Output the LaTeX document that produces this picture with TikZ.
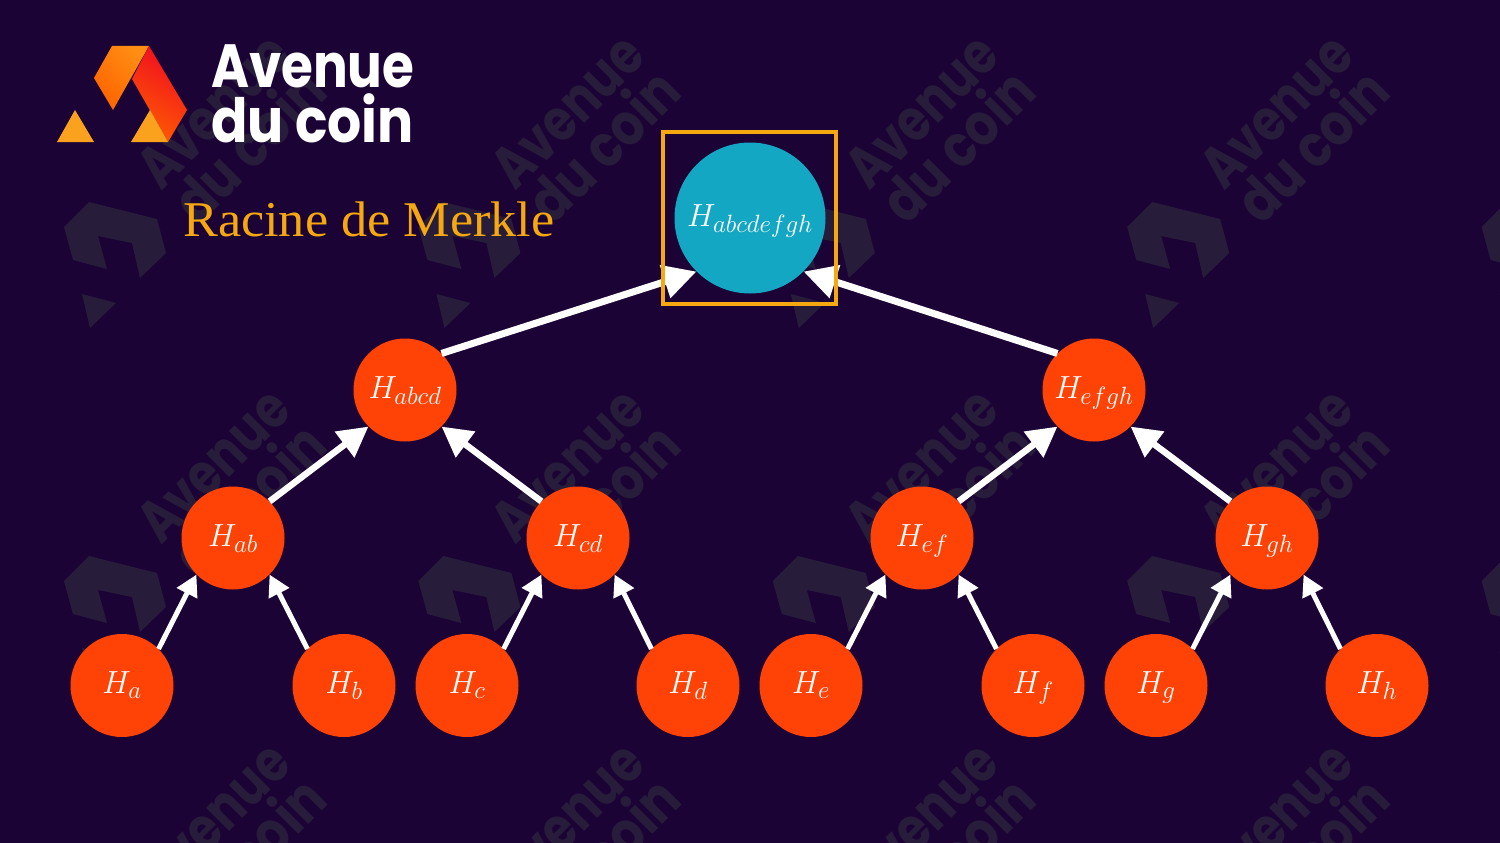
\documentclass[tikz,border=0pt]{standalone}
\usepackage{fix-cm}
\usepackage{amsmath}
\usepackage{graphicx}
\usepackage{fontspec}
\setmainfont{Liberation Serif}
\newfontfamily\brandfont{Poppins}
\usetikzlibrary{arrows.meta}
\DeclareMathSizes{32}{32}{25}{18}
\definecolor{fondnuit}{HTML}{1C0335}
\definecolor{filigrane}{HTML}{271D3A}
\definecolor{noeudrouge}{HTML}{FF4206}
\definecolor{racinebleu}{HTML}{14A7C3}
\definecolor{cadreor}{HTML}{F5A80F}
\definecolor{logoclair}{HTML}{FF8E14}
\definecolor{logofonce}{HTML}{FF6400}
\definecolor{logorouge}{HTML}{F00E1E}
\definecolor{logobas}{HTML}{FF5A04}
\definecolor{logojaune}{HTML}{FAA21E}

\begin{document}
\begin{tikzpicture}[x=1pt, y=-1pt]
        % Define styles for shapes
        \tikzstyle{hashnode} = [circle, fill=noeudrouge, text=white, inner sep=0pt, minimum size=103pt, text height=22pt, text depth=6pt, font=\fontsize{32}{36}\selectfont]
        \tikzstyle{rootnode} = [hashnode, fill=racinebleu, minimum size=151pt]
        \tikzstyle{rootbox} = [draw=cadreor, line width=4pt, minimum width=173pt, minimum height=172pt, inner sep=0pt]
        \tikzstyle{lowarrow} = [draw=white, line width=5pt, -{Triangle[length=21pt, width=22pt]}]
        \tikzstyle{midarrow} = [draw=white, line width=6.5pt, -{Triangle[length=30pt, width=31pt]}]
        \tikzstyle{toparrow} = [draw=white, line width=7pt, -{Triangle[length=33pt, width=33pt]}]
        \tikzstyle{brandtext} = [anchor=base west, inner sep=0pt, font=\brandfont\bfseries\fontsize{61}{61}\selectfont]

        \useasboundingbox (0,0) rectangle (1500,843);
        \fill[fondnuit] (0,0) rectangle (1500,843);

        % Watermark tiles
        \begin{scope}
            \clip (0,0) rectangle (1500,843);
            \foreach \col in {0,...,4} {
                \foreach \row in {0,1,2} {
                    \begin{scope}[shift={(64+354.4*\col,202+354*\row)}]
                        \fill[filigrane] (25,0) -- (93,17) -- (102,51) -- (76,76) -- (68,41) -- (34,34) -- (43,67) -- (9,58) -- (0,25) -- cycle;
                        \fill[filigrane] (18,92) -- (52,101) -- (26,126) -- cycle;
                        \node[brandtext, text=filigrane, rotate=45] (wmone\col\row) at (97,-10) {\scalebox{0.78}[0.96]{Avenue}};
                        \node[brandtext, text=filigrane, rotate=45] (wmtwo\col\row) at (134,25) {\scalebox{0.81}[0.96]{du coin}};
                    \end{scope}
                }
            }
        \end{scope}

        % Logo
        \shade[left color=logoclair, right color=logofonce, shading angle=-45] (112,46) -- (149,46) -- (113,110) -- (94,78) -- cycle;
        \shade[top color=logorouge, bottom color=logobas, shading angle=-30] (149,46) -- (187,110) -- (168,142) -- (132,79) -- cycle;
        \fill[logojaune] (75,110) -- (94,142) -- (57,142) -- cycle;
        \fill[logojaune] (150,110) -- (168,142) -- (131,142) -- cycle;
        \node[brandtext, text=white] (brandone) at (211,88) {\scalebox{0.845}[1]{Avenue}};
        \node[brandtext, text=white] (brandtwo) at (211,142) {\scalebox{0.88}[1]{du coin}};

        \node[anchor=base west, inner sep=0pt, text=cadreor, font=\fontsize{50}{50}\selectfont] (title) at (183,236) {\scalebox{1.045}[1]{Racine de Merkle}};

        % Draw hash nodes
        \node[rootnode] (root) at (750,218) {$H_{abcdefgh}$};
        \node[hashnode] (abcd) at (405,390) {$H_{abcd}$};
        \node[hashnode] (efgh) at (1094,390) {$H_{efgh}$};
        \node[hashnode] (ab) at (233,538) {$H_{ab}$};
        \node[hashnode] (cd) at (578,538) {$H_{cd}$};
        \node[hashnode] (ef) at (922,538) {$H_{ef}$};
        \node[hashnode] (gh) at (1267,538) {$H_{gh}$};
        \node[hashnode] (a) at (122,685.5) {$H_a$};
        \node[hashnode] (b) at (344,685.5) {$H_b$};
        \node[hashnode] (c) at (467,685.5) {$H_c$};
        \node[hashnode] (d) at (688,685.5) {$H_d$};
        \node[hashnode] (e) at (811,685.5) {$H_e$};
        \node[hashnode] (f) at (1033,685.5) {$H_f$};
        \node[hashnode] (g) at (1156,685.5) {$H_g$};
        \node[hashnode] (h) at (1377,685.5) {$H_h$};

        % Draw arrows
        \draw[lowarrow] (a.45) -- (ab.225);
        \draw[lowarrow] (b.135) -- (ab.-45);
        \draw[lowarrow] (c.45) -- (cd.225);
        \draw[lowarrow] (d.135) -- (cd.-45);
        \draw[lowarrow] (e.45) -- (ef.225);
        \draw[lowarrow] (f.135) -- (ef.-45);
        \draw[lowarrow] (g.45) -- (gh.225);
        \draw[lowarrow] (h.135) -- (gh.-45);
        \draw[midarrow] (ab.45) -- (abcd.225);
        \draw[midarrow] (cd.135) -- (abcd.-45);
        \draw[midarrow] (ef.45) -- (efgh.225);
        \draw[midarrow] (gh.135) -- (efgh.-45);
        \draw[toparrow] (abcd.45) -- (root.225);
        \draw[toparrow] (efgh.135) -- (root.-45);

        % Box around the root
        \node[rootbox] (rootframe) at (749.5,218) {};
    \end{tikzpicture}
\end{document}
